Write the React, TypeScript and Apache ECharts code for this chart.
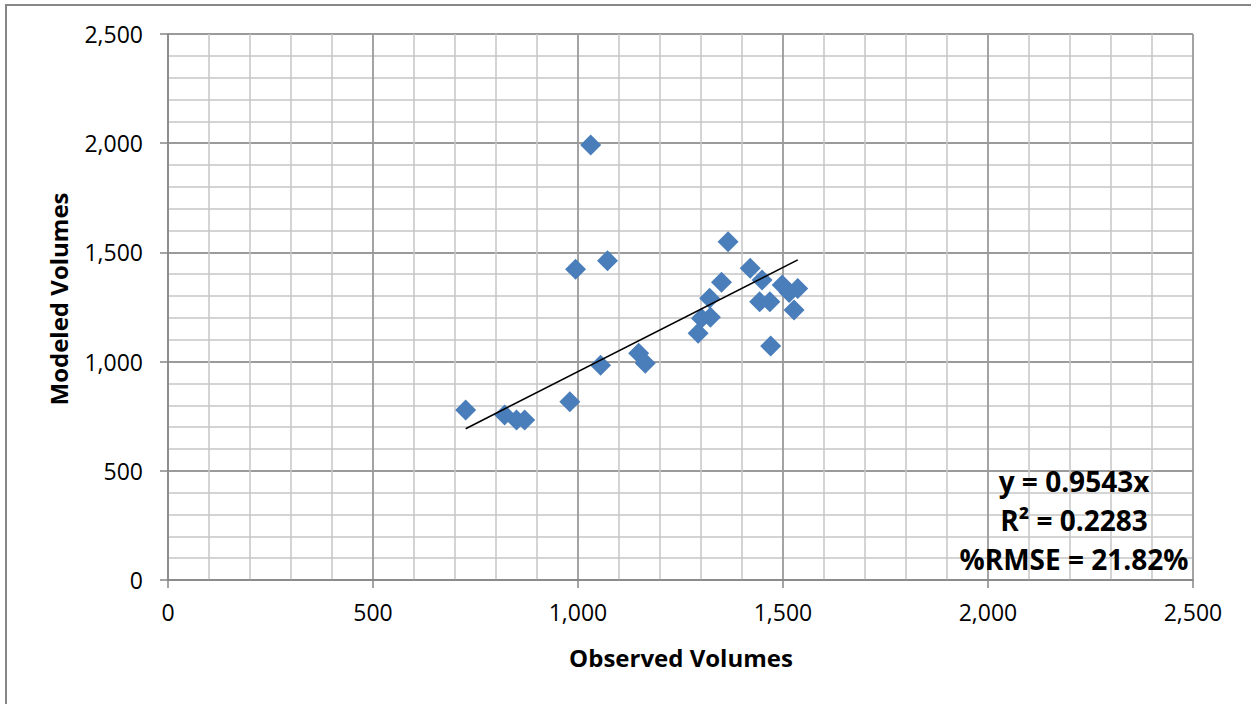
import React, { useEffect, useRef } from "react";
import * as echarts from "echarts";

// Observed vs. modeled link volumes
const observed = [726, 821, 850, 870, 980, 994, 1031, 1072, 1055, 1148, 1164, 1293, 1301, 1323, 1321, 1350, 1366, 1420, 1449, 1443, 1468, 1470, 1498, 1515, 1536, 1527];
const modeled = [778, 756, 733, 733, 816, 1423, 1992, 1462, 983, 1038, 992, 1130, 1198, 1203, 1290, 1363, 1549, 1427, 1374, 1274, 1274, 1071, 1351, 1316, 1335, 1236];

// Regression through the origin
const slope = 0.9543;
const rSquared = "0.2283";
const rmsePct = "21.82%";

const axisTicks = { min: 0, max: 2500, interval: 500 };
const FONT = "'Open Sans', 'Liberation Sans', sans-serif";
const fmt = (v: number) => v.toLocaleString("en-US");

export default function App() {
  const ref = useRef<HTMLDivElement>(null);

  useEffect(() => {
    if (!ref.current) return;
    const chart = echarts.init(ref.current, undefined, { renderer: "svg" });

    const points = observed.map((x, i) => [x, modeled[i]]);
    const xMin = Math.min(...observed);
    const xMax = Math.max(...observed);
    const trend = [
      [xMin, slope * xMin],
      [xMax, slope * xMax],
    ];

    const axisCommon = {
      type: "value" as const,
      ...axisTicks,
      axisLine: { show: true, lineStyle: { color: "#868686", width: 1.5 } },
      axisTick: { show: true, length: 8, lineStyle: { color: "#868686", width: 1.5 } },
      splitLine: { show: true, lineStyle: { color: "#9a9a9a", width: 1.8 } },
      minorTick: { show: false, splitNumber: 5 },
      minorSplitLine: { show: true, lineStyle: { color: "#c6c6c6", width: 1.5 } },
    };

    chart.setOption({
      animation: false,
      grid: { left: 168, right: 58, top: 34, bottom: 124, containLabel: false },
      xAxis: {
        ...axisCommon,
        axisLabel: { formatter: fmt, fontFamily: FONT, fontSize: 23, color: "#000", margin: 20 },
      },
      yAxis: {
        ...axisCommon,
        axisLabel: { formatter: fmt, fontFamily: FONT, fontSize: 23, color: "#000", margin: 25 },
      },
      series: [
        {
          type: "scatter",
          data: points,
          symbol: "diamond",
          symbolSize: 21,
          itemStyle: { color: "#4a7ebb", opacity: 1 },
          z: 3,
        },
        {
          type: "line",
          data: trend,
          showSymbol: false,
          symbol: "none",
          lineStyle: { color: "#000", width: 1.6 },
          z: 4,
        },
      ],
      graphic: [
        {
          type: "rect",
          shape: { x: 6, y: 5, width: 1300, height: 760 },
          style: { fill: "none", stroke: "#878787", lineWidth: 2 },
          silent: true,
        },
        {
          type: "text",
          x: 681,
          y: 657,
          style: {
            text: "Observed Volumes",
            fontFamily: FONT,
            fontWeight: "bold",
            fontSize: 24,
            fill: "#000",
            align: "center",
            verticalAlign: "middle",
          },
        },
        {
          type: "text",
          x: 58,
          y: 299,
          rotation: Math.PI / 2,
          style: {
            text: "Modeled Volumes",
            fontFamily: FONT,
            fontWeight: "bold",
            fontSize: 24,
            fill: "#000",
            align: "center",
            verticalAlign: "middle",
          },
        },
        ...[`y = ${slope}x`, `R² = ${rSquared}`, `%RMSE = ${rmsePct}`].map((t, i) => ({
          type: "text",
          x: 1074,
          y: 481 + i * 39,
          z: 10,
          style: {
            text: t,
            fontFamily: FONT,
            fontWeight: "bold",
            fontSize: 28,
            fill: "#000",
            align: "center",
            verticalAlign: "middle",
          },
        })),
      ],
    });

    return () => chart.dispose();
  }, []);

  return (
    <div
      ref={ref}
      style={{ position: "absolute", left: 0, top: 0, width: 1251, height: 704, background: "#fff" }}
    />
  );
}
